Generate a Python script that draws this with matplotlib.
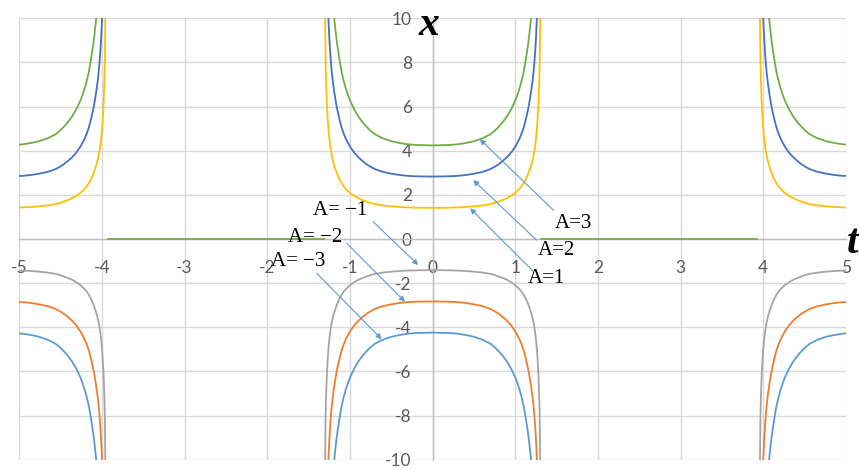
import matplotlib
matplotlib.use("Agg")
import matplotlib.pyplot as plt

plt.rcParams["axes.unicode_minus"] = False

# middle branch, t >= 0 half (the branch is symmetric about t = 0)
T_HALF = [0.00, 0.20, 0.30, 0.40, 0.50, 0.60, 0.65, 0.70, 0.75, 0.80, 0.85, 0.90,
          0.95, 1.00, 1.025, 1.05, 1.075, 1.10, 1.125, 1.15, 1.165, 1.18, 1.19, 1.20,
          1.21, 1.22, 1.23, 1.24, 1.25, 1.26, 1.27, 1.28, 1.29, 1.295, 1.30, 1.305]
# outer branch on the right (t = 5 down to the asymptote near 3.95), mirrored on the left
T_OUT = [5.00, 4.96, 4.86, 4.76, 4.66, 4.61, 4.56, 4.51, 4.46, 4.41, 4.36, 4.31,
         4.26, 4.235, 4.21, 4.185, 4.16, 4.135, 4.11, 4.095, 4.08, 4.07, 4.06, 4.05,
         4.04, 4.03, 4.02, 4.01, 4.00, 3.99, 3.98, 3.97, 3.965, 3.96, 3.955]

X_A1_HALF = [1.41, 1.42, 1.43, 1.45, 1.48, 1.52, 1.55, 1.58, 1.63, 1.70, 1.77, 1.85,
             1.96, 2.09, 2.18, 2.27, 2.38, 2.52, 2.69, 2.90, 3.04, 3.21, 3.33, 3.46,
             3.61, 3.78, 3.99, 4.24, 4.55, 4.95, 5.47, 6.19, 7.24, 8.13, 9.76, 13.58]
X_A2_HALF = [2.83, 2.84, 2.86, 2.90, 2.96, 3.04, 3.10, 3.17, 3.27, 3.39, 3.54, 3.71,
             3.92, 4.19, 4.36, 4.54, 4.77, 5.03, 5.39, 5.80, 6.08, 6.42, 6.66, 6.93,
             7.21, 7.55, 7.98, 8.49, 9.11, 9.90, 10.95, 12.39, 14.48, 16.26, 19.52, 27.15]
X_A3_HALF = [4.24, 4.26, 4.29, 4.35, 4.43, 4.56, 4.65, 4.75, 4.90, 5.09, 5.30, 5.56,
             5.88, 6.28, 6.53, 6.81, 7.15, 7.55, 8.08, 8.70, 9.12, 9.63, 9.99, 10.39,
             10.82, 11.33, 11.96, 12.73, 13.66, 14.85, 16.42, 18.58, 21.72, 24.40, 29.27, 40.73]
X_M1_HALF = [-1.41, -1.42, -1.43, -1.45, -1.48, -1.52, -1.55, -1.58, -1.63, -1.70, -1.77, -1.85,
             -1.96, -2.09, -2.18, -2.27, -2.38, -2.52, -2.69, -2.90, -3.04, -3.21, -3.33, -3.46,
             -3.61, -3.78, -3.99, -4.24, -4.55, -4.95, -5.47, -6.19, -7.24, -8.13, -9.76, -13.58]
X_M2_HALF = [-2.83, -2.84, -2.86, -2.90, -2.96, -3.04, -3.10, -3.17, -3.27, -3.39, -3.54, -3.71,
             -3.92, -4.19, -4.36, -4.54, -4.77, -5.03, -5.39, -5.80, -6.08, -6.42, -6.66, -6.93,
             -7.21, -7.55, -7.98, -8.49, -9.11, -9.90, -10.95, -12.39, -14.48, -16.26, -19.52, -27.15]
X_M3_HALF = [-4.24, -4.26, -4.29, -4.35, -4.43, -4.56, -4.65, -4.75, -4.90, -5.09, -5.30, -5.56,
             -5.88, -6.28, -6.53, -6.81, -7.15, -7.55, -8.08, -8.70, -9.12, -9.63, -9.99, -10.39,
             -10.82, -11.33, -11.96, -12.73, -13.66, -14.85, -16.42, -18.58, -21.72, -24.40, -29.27, -40.73]

X_A1_OUT = [1.43, 1.43, 1.45, 1.48, 1.52, 1.55, 1.58, 1.63, 1.70, 1.77, 1.85, 1.96,
            2.09, 2.18, 2.27, 2.38, 2.52, 2.69, 2.90, 3.04, 3.21, 3.33, 3.46, 3.61,
            3.78, 3.99, 4.24, 4.55, 4.95, 5.47, 6.19, 7.24, 8.13, 9.76, 13.58]
X_A2_OUT = [2.86, 2.86, 2.90, 2.96, 3.04, 3.10, 3.17, 3.27, 3.39, 3.54, 3.71, 3.92,
            4.19, 4.36, 4.54, 4.77, 5.03, 5.39, 5.80, 6.08, 6.42, 6.66, 6.93, 7.21,
            7.55, 7.98, 8.49, 9.11, 9.90, 10.95, 12.39, 14.48, 16.26, 19.52, 27.15]
X_A3_OUT = [4.28, 4.29, 4.35, 4.43, 4.56, 4.65, 4.75, 4.90, 5.09, 5.30, 5.56, 5.88,
            6.28, 6.53, 6.81, 7.15, 7.55, 8.08, 8.70, 9.12, 9.63, 9.99, 10.39, 10.82,
            11.33, 11.96, 12.73, 13.66, 14.85, 16.42, 18.58, 21.72, 24.40, 29.27, 40.73]
X_M1_OUT = [-1.43, -1.43, -1.45, -1.48, -1.52, -1.55, -1.58, -1.63, -1.70, -1.77, -1.85, -1.96,
            -2.09, -2.18, -2.27, -2.38, -2.52, -2.69, -2.90, -3.04, -3.21, -3.33, -3.46, -3.61,
            -3.78, -3.99, -4.24, -4.55, -4.95, -5.47, -6.19, -7.24, -8.13, -9.76, -13.58]
X_M2_OUT = [-2.86, -2.86, -2.90, -2.96, -3.04, -3.10, -3.17, -3.27, -3.39, -3.54, -3.71, -3.92,
            -4.19, -4.36, -4.54, -4.77, -5.03, -5.39, -5.80, -6.08, -6.42, -6.66, -6.93, -7.21,
            -7.55, -7.98, -8.49, -9.11, -9.90, -10.95, -12.39, -14.48, -16.26, -19.52, -27.15]
X_M3_OUT = [-4.28, -4.29, -4.35, -4.43, -4.56, -4.65, -4.75, -4.90, -5.09, -5.30, -5.56, -5.88,
            -6.28, -6.53, -6.81, -7.15, -7.55, -8.08, -8.70, -9.12, -9.63, -9.99, -10.39, -10.82,
            -11.33, -11.96, -12.73, -13.66, -14.85, -16.42, -18.58, -21.72, -24.40, -29.27, -40.73]

# the A=3 series also has zero values where it is undefined
T_ZERO_LEFT = [-3.93, -1.31]
T_ZERO_RIGHT = [1.31, 3.92]
X_ZERO = [0, 0]

X_TICKS = [-5, -4, -3, -2, -1, 0, 1, 2, 3, 4, 5]
Y_TICKS = [-10, -8, -6, -4, -2, 0, 2, 4, 6, 8, 10]

series = [
    (X_A2_HALF, X_A2_OUT, "#4472C4"),
    (X_M2_HALF, X_M2_OUT, "#ED7D31"),
    (X_M1_HALF, X_M1_OUT, "#A5A5A5"),
    (X_A1_HALF, X_A1_OUT, "#FFC000"),
    (X_M3_HALF, X_M3_OUT, "#5B9BD5"),
    (X_A3_HALF, X_A3_OUT, "#70AD47"),
]

fig = plt.figure(figsize=(8.59, 4.70), dpi=100)
ax = fig.add_axes([19.3 / 859, 1 - 459.7 / 470, (846 - 19.3) / 859, (459.7 - 18.3) / 470])

for xh, xo, col in series:
    t_mid = [-t for t in T_HALF[::-1]] + T_HALF[1:]
    x_mid = xh[::-1] + xh[1:]
    ax.plot(t_mid, x_mid, color=col, lw=1.3, zorder=3)
    ax.plot(T_OUT, xo, color=col, lw=1.3, zorder=3)
    ax.plot([-t for t in T_OUT], xo, color=col, lw=1.3, zorder=3)

ax.plot(T_ZERO_LEFT, X_ZERO, color="#70AD47", lw=1.3, zorder=3)
ax.plot(T_ZERO_RIGHT, X_ZERO, color="#70AD47", lw=1.3, zorder=3)

ax.set_xlim(-5, 5)
ax.set_ylim(-10, 10)
ax.set_xticks(X_TICKS)
ax.set_yticks(Y_TICKS)
ax.set_xticklabels([str(v) for v in X_TICKS])
ax.set_yticklabels([str(v) for v in Y_TICKS])
ax.grid(color="#D9D9D9", lw=1)
ax.set_axisbelow(True)

for s in ["top", "right"]:
    ax.spines[s].set_visible(False)
for s in ["left", "bottom"]:
    ax.spines[s].set_position("zero")
    ax.spines[s].set_color("#BFBFBF")
    ax.spines[s].set_linewidth(1)
    ax.spines[s].set_zorder(2)

ax.tick_params(axis="both", length=0, labelsize=12.5, labelcolor="#595959")
ax.tick_params(axis="x", pad=15)
ax.tick_params(axis="y", pad=15)
for lab in ax.get_xticklabels() + ax.get_yticklabels():
    lab.set_family("Lato")

# annotations: label, text position, arrow tail, arrow head
notes = [
    ("A=3", (1.70, 0.68), (1.46, 1.31), (0.57, 4.52)),
    ("A=2", (1.50, -0.54), (1.257, -0.05), (0.49, 2.67)),
    ("A=1", (1.38, -1.81), (1.213, -1.45), (0.453, 1.39)),
    ("A= \u22121", (-1.12, 1.27), (-0.719, 0.78), (-0.174, -1.18)),
    ("A= \u22122", (-1.42, 0.09), (-1.04, -0.19), (-0.335, -2.84)),
    ("A= \u22123", (-1.63, -1.04), (-1.403, -1.55), (-0.617, -4.54)),
]
for txt, pos, tail, head in notes:
    ax.annotate("", xy=head, xytext=tail,
                arrowprops=dict(arrowstyle="-|>", color="#5B9BD5", lw=0.8,
                                mutation_scale=8, shrinkA=0, shrinkB=0), zorder=4)
    ax.text(pos[0], pos[1], txt, ha="center", va="center", fontsize=15,
            family="Liberation Serif", color="black", zorder=5)

fig.text(429 / 859, 1 - 25 / 470, "x", fontsize=30, family="Liberation Serif",
         style="italic", weight="bold", ha="center", va="center")
fig.text(853 / 859, 1 - 243 / 470, "t", fontsize=30, family="Liberation Serif",
         style="italic", weight="bold", ha="center", va="center")

fig.savefig("out.png", dpi=100)
